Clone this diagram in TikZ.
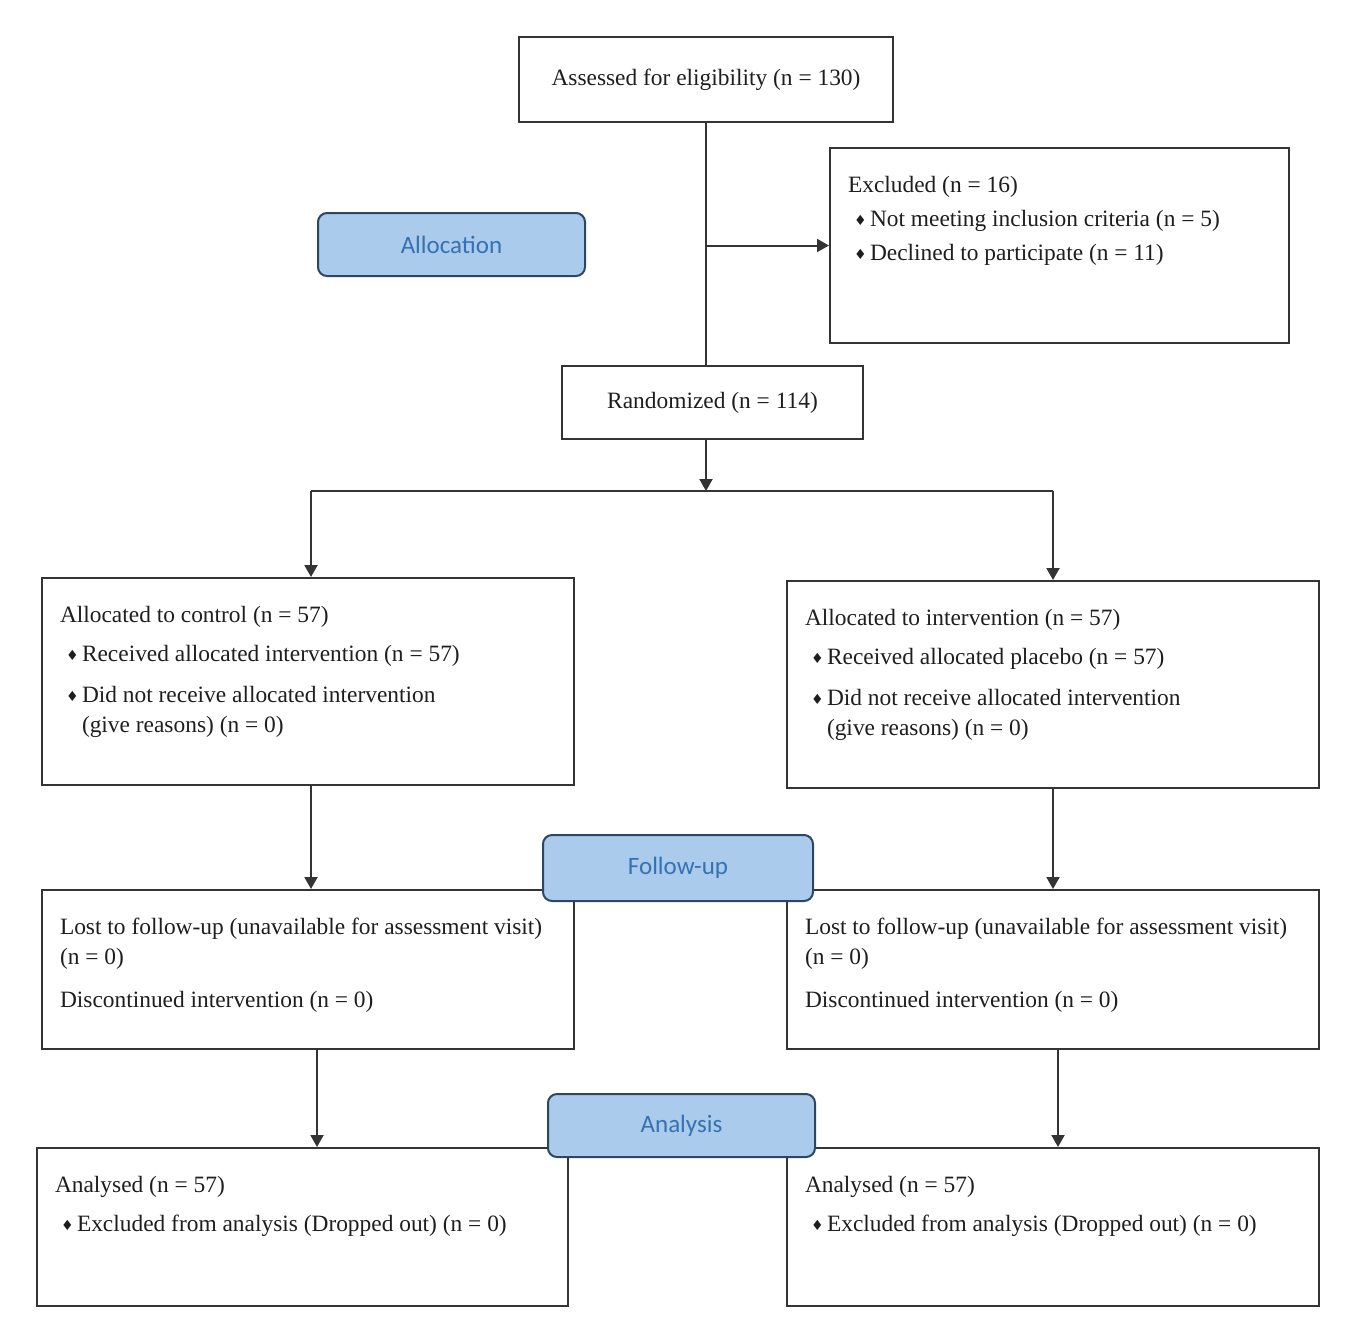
\documentclass[tikz,border=0pt]{standalone}
\usepackage{fontspec}
\setmainfont{Liberation Serif}
\newfontfamily\symfont{DejaVu Sans}
\newfontfamily\phasefont{Carlito}
\usepackage{tikz}
\usetikzlibrary{arrows.meta,positioning}
\definecolor{boxGray}{RGB}{52,52,52}
\definecolor{txtGray}{RGB}{30,30,30}
\definecolor{phaseFill}{RGB}{170,203,235}
\definecolor{phaseEdge}{RGB}{45,70,100}
\definecolor{phaseText}{RGB}{52,114,178}
\newcommand{\bul}{\makebox[11pt][l]{\hspace{3pt}\raisebox{0.6pt}{\symfont\fontsize{7}{7}\selectfont ♦}}}
\newcommand{\boxbody}[3]{\parbox[t][#2][t]{#1}{\vspace*{14pt}#3}}

\begin{document}
\begin{tikzpicture}[x=0.5pt,y=-0.5pt,
  stage/.style={draw=boxGray, line width=1pt, fill=white, inner xsep=9pt, inner ysep=0pt, anchor=north west, text=txtGray, font=\fontsize{11.7}{15}\selectfont},
  single/.style={draw=boxGray, line width=1pt, fill=white, text=txtGray, font=\fontsize{11.7}{15}\selectfont},
  phase/.style={draw=phaseEdge, line width=1pt, fill=phaseFill, rounded corners=4.5pt, text=phaseText, minimum width=133.5pt, minimum height=31.5pt, font=\phasefont\fontsize{12.5}{14}\selectfont},
  link/.style={draw=boxGray, line width=1pt},
  flow/.style={link, -{Triangle[length=6pt,width=6.5pt]}}]
\useasboundingbox (0,0) rectangle (1366,1330);

\node[single, minimum width=187pt, minimum height=42.5pt] (assessed) at (706,79.5) {\raisebox{1.5pt}{Assessed for eligibility (n = 130)}};
\node[stage] (excluded) at (829,147) {\boxbody{211.5pt}{97.5pt}{Excluded (n = 16)\\[2pt]
  \bul Not meeting inclusion criteria (n = 5)\\[2pt]
  \bul Declined to participate (n = 11)}};
\node[single, minimum width=150.5pt, minimum height=36.5pt] (randomized) at (712.5,402.5) {Randomized (n = 114)};
\coordinate (split) at (706,491);

\node[stage] (control) at (41,577) {\boxbody{248pt}{103.5pt}{Allocated to control (n = 57)\\[4.5pt]
  \bul Received allocated intervention (n = 57)\\[5.5pt]
  \bul Did not receive allocated intervention\\
  \hspace*{11pt}(give reasons) (n = 0)}};
\node[stage] (interv) at (786,580) {\boxbody{248pt}{103.5pt}{Allocated to intervention (n = 57)\\[4.5pt]
  \bul Received allocated placebo (n = 57)\\[5.5pt]
  \bul Did not receive allocated intervention\\
  \hspace*{11pt}(give reasons) (n = 0)}};

\node[stage] (lostctrl) at (41,889) {\boxbody{248pt}{79.5pt}{Lost to follow-up (unavailable for assessment visit)\\
  (n = 0)\\[6.5pt]
  Discontinued intervention (n = 0)}};
\node[stage] (lostint) at (786,889) {\boxbody{248pt}{79.5pt}{Lost to follow-up (unavailable for assessment visit)\\
  (n = 0)\\[6.5pt]
  Discontinued intervention (n = 0)}};

\node[stage] (anactrl) at (36,1147) {\boxbody{247.5pt}{79pt}{Analysed (n = 57)\\[4.5pt]
  \bul Excluded from analysis (Dropped out) (n = 0)}};
\node[stage] (anaint) at (786,1147) {\boxbody{248pt}{79pt}{Analysed (n = 57)\\[4.5pt]
  \bul Excluded from analysis (Dropped out) (n = 0)}};

\draw[link] (assessed.south) -- (assessed.south |- randomized.north);
\draw[flow] (assessed.south |- excluded.west) -- (excluded.west);
\draw[flow] (assessed.south |- randomized.south) -- (split);
\draw[link] ([xshift=1.5pt]control.north |- split) -- (interv.north |- split);
\draw[flow] ([xshift=1.5pt]control.north |- split) -- ([xshift=1.5pt]control.north);
\draw[flow] (interv.north |- split) -- (interv.north);
\draw[flow] ([xshift=1.5pt]control.south) -- ([xshift=1.5pt]lostctrl.north);
\draw[flow] (interv.south) -- (lostint.north);
\draw[flow] ([xshift=4.5pt]lostctrl.south) -- ([xshift=4.5pt]lostctrl.south |- anactrl.north);
\draw[flow] ([xshift=2.5pt]lostint.south) -- ([xshift=2.5pt]lostint.south |- anaint.north);

\node[phase] (allocation) at (451.5,244.5) {Allocation};
\node[phase, minimum width=135pt, minimum height=33pt] (followup) at (678,868) {Follow-up};
\node[phase] (analysis) at (681.5,1125.5) {Analysis};
\end{tikzpicture}
\end{document}
